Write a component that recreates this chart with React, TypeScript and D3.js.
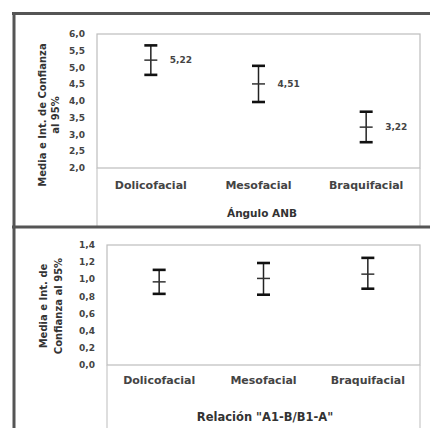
import React from 'react';
import * as d3 from 'd3';

const categories = ['Dolicofacial', 'Mesofacial', 'Braquifacial'];

// Ángulo ANB
const anbMean = [5.22, 4.51, 3.22];
const anbLower = [4.78, 3.97, 2.77];
const anbUpper = [5.66, 5.05, 3.68];
const anbTicks = [2.0, 2.5, 3.0, 3.5, 4.0, 4.5, 5.0, 5.5, 6.0];

// Relación "A1-B/B1-A"
const relMean = [0.97, 1.01, 1.06];
const relLower = [0.83, 0.82, 0.89];
const relUpper = [1.11, 1.19, 1.25];
const relTicks = [0.0, 0.2, 0.4, 0.6, 0.8, 1.0, 1.2, 1.4];

const FONT = '"DejaVu Sans", Verdana, sans-serif';
const comma = (v: number, p: number) => d3.format('.' + p + 'f')(v).replace('.', ',');

function Panel({ x0, x1, y0, y1, lineBottom, ticks, mean, lower, upper, showValues,
  titleLines, titleXs, titleY, xTitle, xTitleX, xTitleY, catY, titleSize }: any) {
  const x = d3.scaleBand().domain(categories).range([x0, x1]);
  const y = d3.scaleLinear().domain([ticks[0], ticks[ticks.length - 1]]).range([y1, y0]);
  const cap = 6.5;
  return (
    <g>
      <rect x={x0} y={y0} width={x1 - x0} height={y1 - y0} fill="none" stroke="#bdbdbd" strokeWidth={1.2} />
      <line x1={x0} x2={x0} y1={y1} y2={lineBottom} stroke="#c8c8c8" strokeWidth={1.2} />
      <line x1={x1} x2={x1} y1={y1} y2={lineBottom} stroke="#c8c8c8" strokeWidth={1.2} />
      {ticks.map((t: number) => (
        <text key={t} x={x0 - 12} y={y(t)} dy="0.35em" textAnchor="end" fontSize={9}
          fontWeight="bold" fill="#444">{comma(t, 1)}</text>
      ))}
      {categories.map((c, i) => {
        const cx = (x(c) as number) + x.bandwidth() / 2;
        return (
          <g key={c}>
            <line x1={cx} x2={cx} y1={y(upper[i])} y2={y(lower[i])} stroke="#222" strokeWidth={1.5} />
            <line x1={cx - cap} x2={cx + cap} y1={y(upper[i])} y2={y(upper[i])} stroke="#111" strokeWidth={2.6} />
            <line x1={cx - cap} x2={cx + cap} y1={y(lower[i])} y2={y(lower[i])} stroke="#111" strokeWidth={2.6} />
            <line x1={cx - cap} x2={cx + cap} y1={y(mean[i])} y2={y(mean[i])} stroke="#333" strokeWidth={1.5} />
            {showValues && (
              <text x={cx + 19} y={y(mean[i])} dy="0.35em" fontSize={9} fontWeight="bold" fill="#444">
                {comma(mean[i], 2)}
              </text>
            )}
            <text x={cx} y={catY} dy="0.35em" textAnchor="middle" fontSize={11} fontWeight="bold" fill="#444">{c}</text>
          </g>
        );
      })}
      {titleLines.map((s: string, i: number) => (
        <text key={s} transform={`translate(${titleXs[i]},${titleY}) rotate(-90)`} textAnchor="middle"
          dy="0.35em" fontSize={10} fontWeight="bold" fill="#333">{s}</text>
      ))}
      <text x={xTitleX} y={xTitleY} dy="0.35em" textAnchor="middle" fontSize={titleSize} fontWeight="bold" fill="#333">{xTitle}</text>
    </g>
  );
}

export default function App() {
  return (
    <svg width={430} height={428} style={{ position: 'absolute', left: 0, top: 0, background: '#fff', fontFamily: FONT }}>
      <rect width={430} height={428} fill="#fff" />
      <Panel x0={97} x1={420} y0={34} y1={168} lineBottom={227} ticks={anbTicks}
        mean={anbMean} lower={anbLower} upper={anbUpper} showValues
        titleLines={['Media e Int. de Confianza', 'al 95%']} titleXs={[42, 55]} titleY={115}
        xTitle="Ángulo ANB" xTitleX={262} xTitleY={213} catY={185} titleSize={10.5} />
      <Panel x0={107} x1={420} y0={245} y1={365} lineBottom={428} ticks={relTicks}
        mean={relMean} lower={relLower} upper={relUpper} showValues={false}
        titleLines={['Media e Int. de', 'Confianza al 95%']} titleXs={[43, 58]} titleY={306}
        xTitle={'Relación "A1-B/B1-A"'} xTitleX={265} xTitleY={417} catY={380} titleSize={11.5} />
      <line x1={12} x2={430} y1={13.5} y2={13.5} stroke="#555" strokeWidth={3} />
      <line x1={14} x2={14} y1={12} y2={428} stroke="#555" strokeWidth={3} />
      <line x1={12} x2={430} y1={227} y2={227} stroke="#555" strokeWidth={3} />
    </svg>
  );
}
